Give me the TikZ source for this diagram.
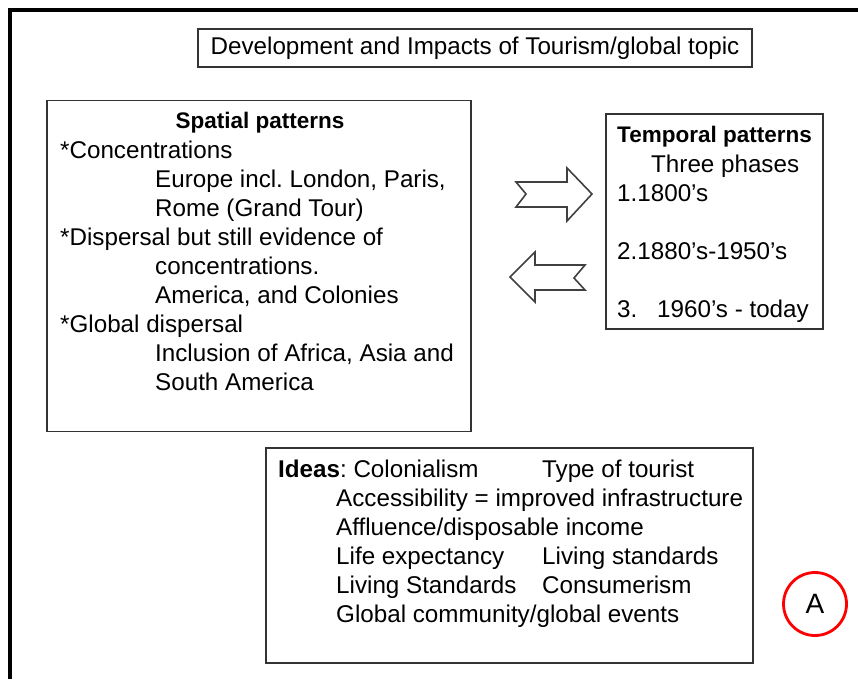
\documentclass[tikz,border=0pt]{standalone}
\usepackage{fontspec}
\setmainfont{Liberation Sans}
\frenchspacing
\begin{document}
\begin{tikzpicture}[x=1pt,y=-1pt,
  font=\fontsize{24.2}{29}\selectfont,
  box/.style={draw=black!80, line width=1.6pt, inner sep=0pt},
  txt/.style={anchor=base west, inner sep=0pt},
  hd/.style={anchor=base west, inner sep=0pt, font=\fontsize{22.5}{29}\selectfont\bfseries},
  blockarrow/.style={draw=black!75, line width=1.6pt, fill=white, line join=miter}]
\useasboundingbox (0,0) rectangle (858,679);
% frame
\draw[line width=4pt] (10,679) -- (10,10) -- (858,10);
% title
\node[box, minimum width=554pt, minimum height=38pt] (title) at (475,48) {Development and Impacts of Tourism/global topic};
% spatial box
\node[box, minimum width=424pt, minimum height=331pt] (spatial) at (259,266) {};
\node[anchor=base, inner sep=0pt, font=\fontsize{22.5}{29}\selectfont\bfseries] (sph) at (260,129) {Spatial patterns};
\node[txt] (s1) at (60,158) {*Concentrations};
\node[txt] (s2) at (155,187) {Europe incl.\ London, Paris,};
\node[txt] (s3) at (155,216) {Rome (Grand Tour)};
\node[txt] (s4) at (60,245) {*Dispersal but still evidence of};
\node[txt] (s5) at (155,274) {concentrations.};
\node[txt] (s6) at (155,303) {America, and Colonies};
\node[txt] (s7) at (60,332) {*Global dispersal};
\node[txt] (s8) at (155,361) {Inclusion of Africa, Asia and};
\node[txt] (s9) at (155,390) {South America};
% temporal box
\node[box, minimum width=217pt, minimum height=215pt] (temporal) at (714.5,221.5) {};
\node[hd] (th) at (617,143) {Temporal patterns};
\node[txt] (t1) at (651,172) {Three phases};
\node[txt] (t2) at (617,201) {1.1800's};
\node[txt] (t3) at (617,259) {2.1880's-1950's};
\node[txt] (t4a) at (617,317) {3.};
\node[txt] (t4b) at (657,317) {1960's - today};
% block arrows
\draw[blockarrow] (516,182) -- (567,182) -- (567,168) -- (592,194) -- (567,221) -- (567,207) -- (516,207) -- (526,194) -- cycle;
\draw[blockarrow] (510,277) -- (535,252) -- (535,265) -- (585,265) -- (574,278) -- (585,290) -- (535,290) -- (535,302) -- cycle;
% ideas box
\node[box, minimum width=487pt, minimum height=215pt] (ideas) at (509.5,555.5) {};
\node[txt] (i1) at (278,477) {\textbf{Ideas}: Colonialism};
\node[txt] (i1b) at (542,477) {Type of tourist};
\node[txt] (i2) at (336,506) {Accessibility = improved infrastructure};
\node[txt] (i3) at (336,535) {Affluence/disposable income};
\node[txt] (i4) at (336,564) {Life expectancy};
\node[txt] (i4b) at (542,564) {Living standards};
\node[txt] (i5) at (336,593) {Living Standards};
\node[txt] (i5b) at (542,593) {Consumerism};
\node[txt] (i6) at (336,622) {Global community/global events};
% label A
\node[draw=red, line width=2.8pt, circle, minimum size=63pt, inner sep=0pt, font=\fontsize{28}{30}\selectfont] (A) at (815,604) {A};
\end{tikzpicture}
\end{document}
